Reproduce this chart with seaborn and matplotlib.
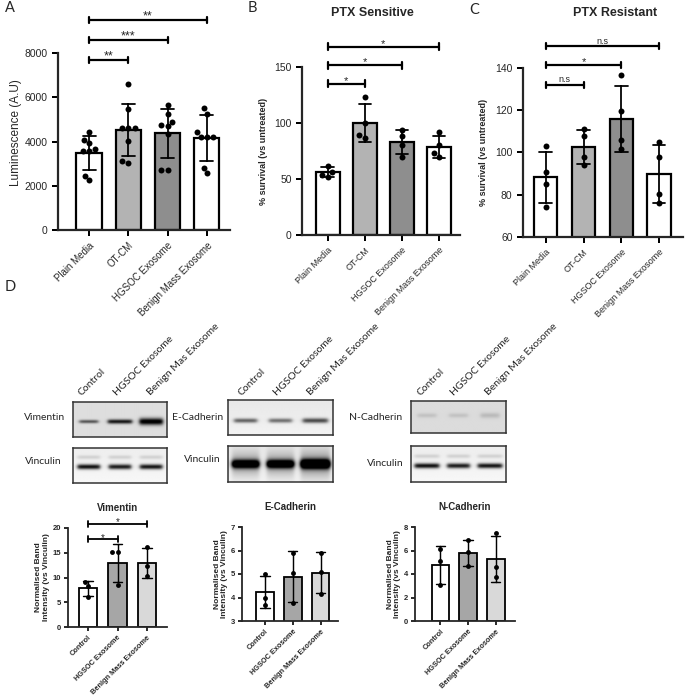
import numpy as np
import pandas as pd
import matplotlib
matplotlib.use("Agg")
import matplotlib.pyplot as plt
import seaborn as sns

sns.set_style("ticks")
plt.rcParams['font.family'] = ['Liberation Sans', 'DejaVu Sans']

W, H = 685, 698

# --- panel A-C data ---
groups = ["Plain Media", "OT-CM", "HGSOC Exosome", "Benign Mass Exosome"]
group_colors = ["white", "#b3b3b3", "#8e8e8e", "white"]

lum_plain = [4410, 4060, 3910, 3680, 3560, 3560, 2450, 2240]
lum_otcm = [6600, 5460, 4620, 4620, 4600, 4020, 3110, 3020]
lum_hgsoc = [5640, 5260, 4900, 4740, 4690, 4320, 2710, 2710]
lum_benign = [5500, 5250, 4420, 4220, 4200, 4200, 2800, 2570]

sens_plain = [62, 56, 52, 54]
sens_otcm = [123.5, 100, 87, 89]
sens_hgsoc = [94, 88, 80, 70]
sens_benign = [92, 80, 70, 73]

res_plain = [103, 91, 85, 74]
res_otcm = [111, 108, 98, 94]
res_hgsoc = [136.5, 119.5, 106, 101.5]
res_benign = [105, 98, 80.5, 76]

# --- panel D data ---
wb_groups = ["Control", "HGSOC Exosome", "Benign Mass Exosome"]
wb_colors = ["white", "#a6a6a6", "#d9d9d9"]
blot_lanes = ["Control", "HGSOC Exosome", "Benign Mas Exosome"]

vim_control = [9.1, 8.3, 6.1]
vim_hgsoc = [15.1, 15.1, 8.5]
vim_benign = [16.2, 12.3, 10.3]

ecad_control = [5.0, 4.0, 3.7]
ecad_hgsoc = [5.88, 5.05, 3.75]
ecad_benign = [5.9, 5.1, 4.15]

ncad_control = [6.16, 5.09, 3.05]
ncad_hgsoc = [6.87, 5.88, 4.66]
ncad_benign = [7.52, 4.61, 3.76]

fig = plt.figure(figsize=(W / 100, H / 100), dpi=100)


def add_ax(x0, y0, x1, y1):
    return fig.add_axes([x0 / W, 1 - y1 / H, (x1 - x0) / W, (y1 - y0) / H])


def ftext(x, y, s, **kw):
    fig.text(x / W, 1 - y / H, s, **kw)


def bar_panel(ax, cats, vals, colors, width, dot, cap, lw):
    df = pd.DataFrame({
        "group": [c for c, v in zip(cats, vals) for _ in v],
        "value": [x for v in vals for x in v],
    })
    sns.barplot(data=df, x="group", y="value", hue="group", order=cats,
                hue_order=cats, palette=colors, saturation=1, errorbar="sd",
                capsize=cap, width=width, edgecolor="black", linewidth=lw,
                err_kws={"color": "black", "linewidth": lw * 0.8},
                legend=False, ax=ax)
    sns.swarmplot(data=df, x="group", y="value", order=cats, color="black",
                  size=dot, ax=ax, zorder=5)
    sns.despine(ax=ax)
    for s in ["left", "bottom"]:
        ax.spines[s].set_linewidth(lw)
    ax.tick_params(width=lw * 0.9, length=4, color="black")
    ax.set_xlabel("")


def bracket(ax, x0, x1, y, label, h, fs, lw, gap=0):
    ax.plot([x0, x1], [y, y], color="black", lw=lw, clip_on=False)
    for xx in (x0, x1):
        ax.plot([xx, xx], [y - h, y + h], color="black", lw=lw, clip_on=False)
    ax.text((x0 + x1) / 2, y + gap, label, ha="center", va="bottom",
            fontsize=fs, clip_on=False)


def xlabels(ax, labels, fs, weight="normal"):
    ax.set_xticks(range(len(labels)))
    ax.set_xticklabels(labels, rotation=45, ha="right", rotation_mode="anchor",
                       fontsize=fs, fontweight=weight)


# ---------- A ----------
axA = add_ax(58, 53, 230, 230)
bar_panel(axA, groups, [lum_plain, lum_otcm, lum_hgsoc, lum_benign],
          group_colors, 0.64, 4.3, 0.33, 1.6)
axA.set_xlim(-0.79, 3.59)
axA.set_ylim(0, 8000)
axA.set_yticks([0, 2000, 4000, 6000, 8000])
axA.tick_params(axis="y", labelsize=7.5)
xlabels(axA, groups, 7)
axA.set_ylabel("Luminescence (A.U)", fontsize=8.5, va="center")
axA.yaxis.set_label_coords(-0.245, 0.55)
for x1, y, s in [(1, 7680, "**"), (2, 8590, "***"), (3, 9490, "**")]:
    bracket(axA, 0, x1, y, s, 140, 9, 1.6, gap=-120)

# ---------- B ----------
axB = add_ax(302, 67, 460, 235)
bar_panel(axB, groups, [sens_plain, sens_otcm, sens_hgsoc, sens_benign],
          group_colors, 0.65, 4.3, 0.33, 1.6)
axB.set_xlim(-0.69, 3.57)
axB.set_ylim(0, 150)
axB.set_yticks([0, 50, 100, 150])
axB.tick_params(axis="y", labelsize=7.5)
xlabels(axB, groups, 6.5)
axB.set_ylabel("% survival (vs untreated)", fontsize=6.5, fontweight="bold",
               va="center")
axB.yaxis.set_label_coords(-0.245, 0.5)
for x1, y, s in [(1, 135, "*"), (2, 151.5, "*"), (3, 168, "*")]:
    bracket(axB, 0, x1, y, s, 3, 8, 1.6, gap=-2)
ftext(372, 13, "PTX Sensitive", fontsize=9, fontweight="bold",
      ha="center", va="center")

# ---------- C ----------
axC = add_ax(523, 68, 683, 237)
bar_panel(axC, groups, [res_plain, res_otcm, res_hgsoc, res_benign],
          group_colors, 0.62, 4.3, 0.33, 1.6)
axC.set_xlim(-0.6, 3.63)
axC.set_ylim(60, 140)
axC.set_yticks([60, 80, 100, 120, 140])
axC.tick_params(axis="y", labelsize=7.5)
xlabels(axC, groups, 6.5)
axC.set_ylabel("% survival (vs untreated)", fontsize=6.5, fontweight="bold",
               va="center")
axC.yaxis.set_label_coords(-0.25, 0.5)
for x1, y, s in [(1, 132, "n.s"), (2, 141.3, "*"), (3, 150.3, "n.s")]:
    fs = 6.5 if s == "n.s" else 8
    bracket(axC, 0, x1, y, s, 1.5, fs, 1.6, gap=0.3 if s == "n.s" else -1)
ftext(615, 13, "PTX Resistant", fontsize=9, fontweight="bold",
      ha="center", va="center")

# panel letters
for x, y, s in [(5, 8, "A"), (248, 8, "B"), (469, 10, "C"), (5, 287, "D")]:
    ftext(x, y, s, fontsize=10.5, family="Lato", ha="left", va="center")


# ---------- western blots ----------
def blot(box, lanes, bg, row, fuzz=0.0, upper=0.0):
    x0, y0, x1, y1 = box
    ax = add_ax(x0, y0, x1, y1)
    h, w = 70, 200
    yy = np.linspace(0, 1, h)[:, None]
    xx = np.linspace(0, 1, w)[None, :]
    img = np.full((h, w), bg) - 0.04 * (1 - yy) * (bg > 0.9)
    for i, (k, sig, half) in enumerate(lanes):
        cx = (i + 0.5) / 3
        lane = 1 / (1 + np.exp(-(half - np.abs(xx - cx)) * 90))
        prof = np.exp(-0.5 * ((yy - row) / sig) ** 2)
        img = img - k * lane * prof
        if fuzz:
            img = img - fuzz * k * lane * np.exp(-0.5 * ((yy - row) / (sig * 3)) ** 2)
        if upper:
            img = img - upper * lane * np.exp(-0.5 * ((yy - row + 0.27) / 0.04) ** 2)
    ax.imshow(np.clip(img, 0, 1), cmap="gray", vmin=0, vmax=1, aspect="auto",
              interpolation="bilinear")
    ax.set_xticks([])
    ax.set_yticks([])
    for s in ax.spines.values():
        s.set_linewidth(1.1)
        s.set_color("#333333")
    return ax


blot((73, 402, 167, 437), [(0.55, 0.035, 0.1), (0.8, 0.045, 0.13), (0.95, 0.07, 0.125)],
     0.87, 0.56)
blot((73, 448, 167, 483), [(0.9, 0.05, 0.12), (0.85, 0.05, 0.12), (0.88, 0.05, 0.12)],
     0.97, 0.55, upper=0.12)
blot((228, 400, 333, 435), [(0.55, 0.045, 0.11), (0.5, 0.045, 0.11), (0.65, 0.05, 0.12)],
     0.95, 0.59)
blot((228, 446, 333, 482), [(1.2, 0.08, 0.13), (1.2, 0.08, 0.13), (1.4, 0.09, 0.14)],
     0.95, 0.5, fuzz=0.25)
blot((411, 401, 506, 433), [(0.1, 0.05, 0.1), (0.1, 0.05, 0.1), (0.13, 0.06, 0.1)],
     0.86, 0.45)
blot((411, 446, 506, 482), [(0.9, 0.05, 0.13), (0.85, 0.05, 0.12), (0.88, 0.05, 0.13)],
     0.97, 0.55, upper=0.12)

for x, y, s in [(45, 418, "Vimentin"), (43, 462, "Vinculin"),
                (198, 417, "E-Cadherin"), (202, 460, "Vinculin"),
                (376, 417, "N-Cadherin"), (385, 464, "Vinculin")]:
    ftext(x, y, s, fontsize=7.5, family="Lato", ha="center", va="center")

for xs in [(83, 118, 152), (243, 278, 312), (422, 455, 490)]:
    for x, s in zip(xs, blot_lanes):
        ftext(x, 397, s, fontsize=7.5, family="Lato", rotation=45,
              ha="left", va="bottom", rotation_mode="anchor")


# ---------- quantification ----------
def wb_panel(box, vals, ylim, yticks, xlim, title):
    ax = add_ax(*box)
    bar_panel(ax, wb_groups, vals, wb_colors, 0.64, 3.5, 0.33, 1.3)
    ax.set_xlim(*xlim)
    ax.set_ylim(*ylim)
    ax.set_yticks(yticks)
    ax.tick_params(axis="y", labelsize=5.5, length=3, pad=2)
    ax.tick_params(axis="x", length=3, pad=2)
    for t in ax.get_yticklabels():
        t.set_fontweight("bold")
    xlabels(ax, wb_groups, 5.3, "bold")
    ax.set_ylabel("Normalised Band\nIntensity (vs Vinculin)", fontsize=6,
                  fontweight="bold", linespacing=1.1, labelpad=2)
    ax.set_title(title, fontsize=7, fontweight="bold", pad=12)
    return ax


axV = wb_panel((68, 528, 167, 627), [vim_control, vim_hgsoc, vim_benign],
               (0, 20), [0, 5, 10, 15, 20], (-0.68, 2.68), "Vimentin")
bracket(axV, 0, 1, 17.7, "*", 0.6, 7, 1.3, gap=-0.8)
bracket(axV, 0, 2, 20.9, "*", 0.6, 7, 1.3, gap=-0.8)

wb_panel((242, 527, 338, 621), [ecad_control, ecad_hgsoc, ecad_benign],
         (3, 7), [3, 4, 5, 6, 7], (-0.83, 2.63), "E-Cadherin")
wb_panel((415, 527, 515, 621), [ncad_control, ncad_hgsoc, ncad_benign],
         (0, 8), [0, 2, 4, 6, 8], (-0.92, 2.7), "N-Cadherin")

fig.savefig("out.png", dpi=100)
